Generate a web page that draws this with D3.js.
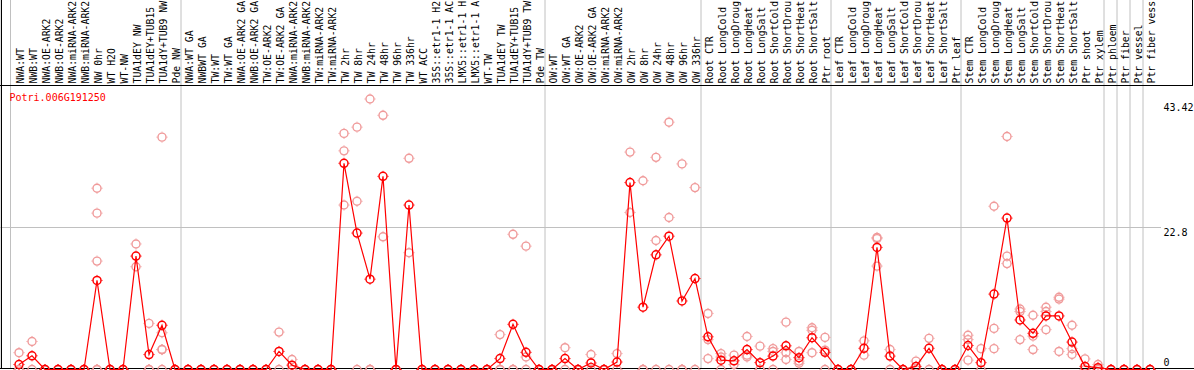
<!DOCTYPE html>
<html><head><meta charset="utf-8">
<script src="https://cdn.jsdelivr.net/npm/d3@7"></script>
<style>
body{margin:0;background:#fff}
svg{display:block}
text{font-family:"DejaVu Sans Mono",monospace;font-size:10px}
text.col{font-size:9.8px}
</style>
</head><body>
<svg id="c" width="1194" height="370"></svg>
<script>
const geneName = "Potri.006G191250";

const labels = [
 "NWA:WT","NWB:WT","NWA:OE-ARK2","NWB:OE-ARK2","NWA:miRNA-ARK2","NWB:miRNA-ARK2","NW 0hr","WT H2O","WT-NW","TUA1dEY NW","TUA1dEY+TUB15","TUA1dY+TUB9 NW","Pde NW",
 "NWA:WT GA","NWBWT GA","TW:WT","TW:WT GA","NWA:OE-ARK2 GA","NWB:OE-ARK2 GA","TW:OE-ARK2","TW:OE-ARK2 GA","NWA:miRNA-ARK2","NWB:miRNA-ARK2","TW:miRNA-ARK2","TW:miRNA-ARK2",
 "TW 2hr","TW 8hr","TW 24hr","TW 48hr","TW 96hr","TW 336hr","WT ACC","35S::etr1-1 H2","35S::etr1-1 AC","LMX5::etr1-1 H","LMX5::etr1-1 A","WT-TW","TUA1dEY TW","TUA1dEY+TUB15","TUA1dY+TUB9 TW","Pde TW",
 "OW:WT","OW:WT GA","OW:OE-ARK2","OW:OE-ARK2 GA","OW:miRNA-ARK2","OW:miRNA-ARK2","OW 2hr","OW 8hr","OW 24hr","OW 48hr","OW 96hr","OW 336hr",
 "Root CTR","Root LongCold","Root LongDroug","Root LongHeat","Root LongSalt","Root ShortCold","Root ShortDrou","Root ShortHeat","Root ShortSalt","Ptr root",
 "Leaf CTR","Leaf LongCold","Leaf LongDroug","Leaf LongHeat","Leaf LongSalt","Leaf ShortCold","Leaf ShortDrou","Leaf ShortHeat","Leaf ShortSalt","Ptr leaf",
 "Stem CTR","Stem LongCold","Stem LongDroug","Stem LongHeat","Stem LongSalt","Stem ShortCold","Stem ShortDrou","Stem ShortHeat","Stem ShortSalt","Ptr shoot","Ptr xylem",
 "Ptr phloem","Ptr fiber","Ptr vessel","Ptr fiber vess"
];

const means = [
 0.8, 2.2, 0, 0, 0, 0, 14.3, 0, 0, 18.2, 2.4, 7.1, 0,
 0, 0, 0, 0, 0, 0, 0, 2.9, 0.7, 0, 0, 0,
 33.1, 21.9, 14.5, 31.0, 0, 26.4, 0, 0, 0, 0, 0, 0, 1.75, 7.25, 2.75, 0,
 0, 1.75, 0, 1.05, 0, 1.2, 30.0, 10.0, 18.4, 21.4, 11.0, 14.6,
 5.25, 1.5, 1.4, 3.2, 1.1, 2.15, 3.8, 1.9, 5.1, 2.75,
 0, 0, 3.4, 19.6, 2.15, 0, 0.5, 3.4, 0, 0,
 3.85, 1.1, 12.1, 24.3, 7.95, 5.8, 8.6, 8.6, 4.4, 0.5, 0.3,
 0, 0, 0, 0
];

const replicates = [
 [2.7,0,0],[4.5,0],[0,0],[0,0],[0,0],[0,0],[29.1,25.1,17.4,0,0],[0,0],[0,0],[20.15,16.5],[7.4,0,0],[37.3,5.9,3.2,3.2,0],[0,0],
 [0,0],[0,0],[0,0],[0,0],[0,0],[0,0],[0,0],[6.0,0],[1.6,0],[0,0],[0,0],[0,0],
 [37.9,35.1,26.4],[38.9,27.0,0],[43.42,0,0],[40.8,21.3],[0,0],[33.9,18.75],[0,0],[0,0],[0,0],[0,0],[0,0],[0,0],[5.6,0,0],[21.7,0,0],[19.8,2.0,0],[0,0],
 [0,0],[3.5,0],[0,0],[2.4,0],[0,0],[2.55,0],[34.9,25.2],[30.3,0,0],[34.05,20.7,0],[39.7,24.4,0],[33.0,0,0],[29.2,0],
 [9.0,4.8,1.75],[2.55,2.0,0],[2.3,0.8],[5.3,2.3,2.0],[3.75,0,0],[3.35,2.9,0],[7.6,2.7,1.6],[2.9,1.35,1.0],[6.7,6.3,2.7],[5.15,3.1,0],
 [0,0],[0,0],[4.6,2.3],[21.2,21.0,16.6],[3.2,0],[0,0],[1.35,0],[5.0,0],[0,0],[0,0],
 [5.5,4.8,1.5],[3.35,0],[26.2,6.6,3.35],[37.4,18.2,17.0],[9.7,9.3,4.8],[8.7,5.35,3.2],[10.0,9.3,6.4],[11.3,11.6,2.9],[7.1,3.35,2.4],[1.7,0],[0.8,0],
 [0,0],[0,0],[0,0],[0,0]
];

// group separators: after these many columns
const groupBreaks = [0, 13, 41, 53, 63, 73, 84, 85, 86, 87, 88];
const yTicks = [0, 22.8, 43.42];
const gridTicks = [22.8];

const svg = d3.select("#c");

const x = d3.scaleBand().domain(d3.range(labels.length)).range([12.5, 12.5 + 13 * labels.length]).padding(0);
const cx = i => x(i) + x.bandwidth() / 2;
const y = d3.scaleLinear().domain([0, 43.42]).range([369.5, 99]);

const labelBottom = 85;

// horizontal grid
svg.selectAll("line.hg").data(gridTicks).join("line")
  .attr("x1", 0).attr("x2", 1161)
  .attr("y1", d => Math.round(y(d)) + 0.5).attr("y2", d => Math.round(y(d)) + 0.5)
  .attr("stroke", "#c0c0c0").attr("stroke-width", 1);

// vertical group separators
svg.selectAll("line.vs").data(groupBreaks).join("line")
  .attr("x1", k => k === 0 ? 10.5 : x(k) - 0.5).attr("x2", k => k === 0 ? 10.5 : x(k) - 0.5)
  .attr("y1", 0).attr("y2", 369)
  .attr("stroke", "#c0c0c0").attr("stroke-width", 1);

// black frame lines
const blk = [
  [1.5, 0, 1.5, 369],
  [0, labelBottom + 0.5, 1193, labelBottom + 0.5],
  [1192.5, 0, 1192.5, labelBottom],
  [0, 368.5, 1194, 368.5]
];
svg.selectAll("line.bk").data(blk).join("line")
  .attr("x1", d => d[0]).attr("y1", d => d[1]).attr("x2", d => d[2]).attr("y2", d => d[3])
  .attr("stroke", "#000").attr("stroke-width", 1);

// rotated column labels
svg.append("g").selectAll("text").data(labels).join("text")
  .attr("class", "col")
  .attr("transform", (d, i) => `translate(${cx(i) + 4.5},${labelBottom - 1.5}) rotate(-90)`)
  .attr("fill", "#000")
  .text(d => d);

// gene name
svg.append("text").attr("x", 9.5).attr("y", 100.5).attr("fill", "#ff0000").text(geneName);

// y tick labels
const tickDy = {0: -4, 22.8: 8.5, 43.42: 12};
svg.append("g").selectAll("text").data(yTicks).join("text")
  .attr("x", 1163.5).attr("y", d => y(d) + tickDy[d])
  .attr("fill", "#000").text(d => d3.format("")(d));

// circle marker with small ticks
function marker(g, color, sw) {
  g.append("circle").attr("r", 4).attr("fill", "none").attr("stroke", color).attr("stroke-width", sw);
  g.append("path").attr("d", "M0,-5.5V-4.5M0,4.5V5.5M-5.5,0H-4.5M4.5,0H5.5")
    .attr("stroke", color).attr("stroke-width", 1);
}

// replicates
const repPts = [];
replicates.forEach((r, i) => r.forEach(v => repPts.push([i, v])));
svg.append("g").selectAll("g").data(repPts).join("g")
  .attr("transform", d => `translate(${cx(d[0])},${y(d[1])})`)
  .each(function () { marker(d3.select(this), "#f09a9a", 1.4); });

// mean line
const line = d3.line().x((d, i) => cx(i)).y(d => y(d));
svg.append("path").datum(means).attr("d", line)
  .attr("fill", "none").attr("stroke", "#ff0000").attr("stroke-width", 1.2);

// means
svg.append("g").selectAll("g").data(means).join("g")
  .attr("transform", (d, i) => `translate(${cx(i)},${y(d)})`)
  .each(function () { marker(d3.select(this), "#ff0000", 1.5); });
</script>
</body></html>
